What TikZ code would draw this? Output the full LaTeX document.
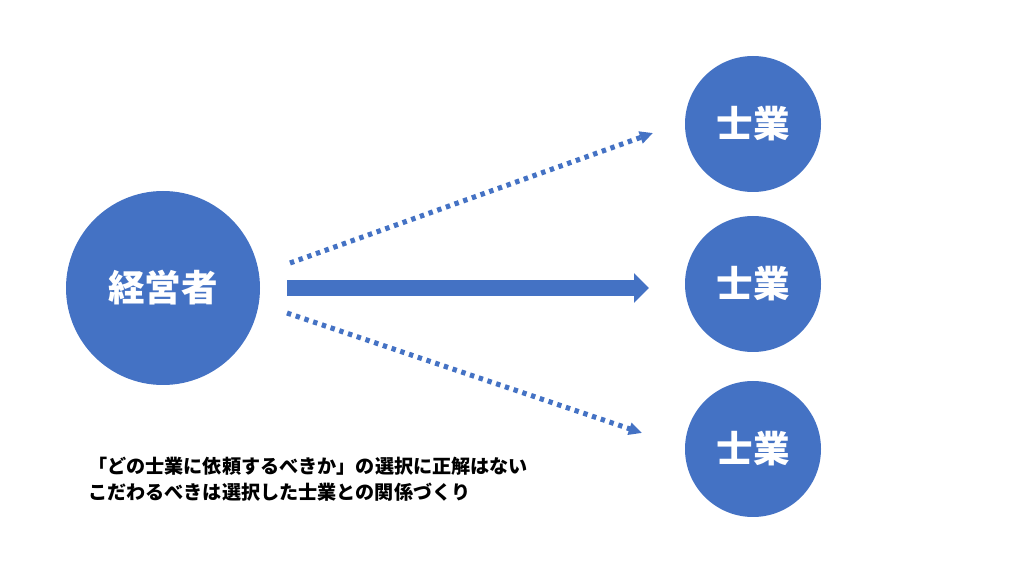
\documentclass[tikz,border=0pt]{standalone}
\usepackage{fontspec}
\setmainfont{Noto Sans CJK JP}
\usepackage{tikz}
\usetikzlibrary{positioning}
\usetikzlibrary{arrows.meta}
\definecolor{officeblue}{HTML}{4472C4}
\tikzset{
every party/.style={ % Sets the properties for each circle
circle,
fill=officeblue,
text=white,
inner sep=0pt},
big party/.style={every party, minimum size=4.85cm, font=\fontsize{26}{30}\selectfont\bfseries},
small party/.style={every party, minimum size=3.4cm, font=\fontsize{26}{30}\selectfont\bfseries},
main link/.style={ % The thick arrow in the middle
draw=officeblue,
line width=10.7pt,
-{Triangle[width=0.725cm,length=0.375cm]}},
side link/.style={ % The dotted arrows
draw=officeblue,
line width=3.6pt,
dash pattern=on 0.11cm off 0.12cm,
-{Triangle[width=0.3cm,length=0.33cm]}}}

\begin{document}
\begin{tikzpicture}
\useasboundingbox (0,0) rectangle (25.6,14.4);
\node[big party] (owner) at (4.075,7.2) {経営者};
\node[small party] (expert1) at (18.825,11.3) {士業};
\node[small party] (expert2) at (18.825,7.3) {士業};
\node[small party] (expert3) at (18.825,3.175) {士業};
\coordinate (up0) at (7.25,7.825);
\coordinate (up1) at (16.325,11.075);
\coordinate (mid0) at (7.175,7.2);
\coordinate (mid1) at (16.225,7.2);
\coordinate (low0) at (7.175,6.575);
\coordinate (low1) at (16.05,3.575);
\draw (up0) edge[side link] (up1) ;
\draw (mid0) edge[main link] (mid1) ;
\draw (low0) edge[side link] (low1) ;
\node[anchor=west, align=left, inner sep=0pt, font=\fontsize{13.6}{18.5}\selectfont\bfseries] (note) at (2.2,2.425)
{「どの士業に依頼するべきか」の選択に正解はない\\こだわるべきは選択した士業との関係づくり};
\end{tikzpicture}
\end{document}
